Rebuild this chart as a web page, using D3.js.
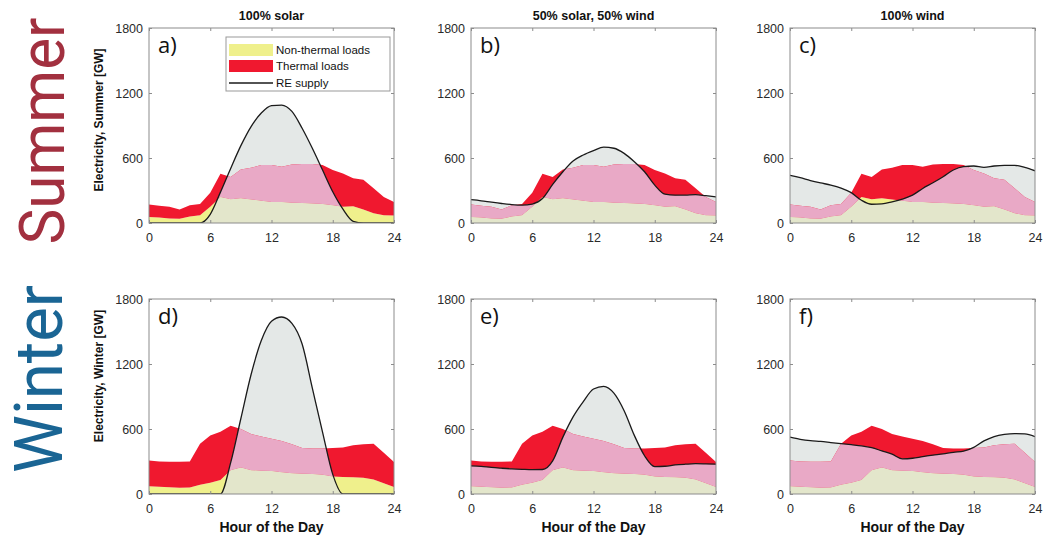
<!DOCTYPE html>
<html>
<head>
<meta charset="utf-8">
<script src="https://cdn.jsdelivr.net/npm/d3@7"></script>
<style>
  body { margin: 0; background: #fff; }
  svg { display: block; }
  text { font-family: 'Liberation Sans', Arial, sans-serif; }
</style>
</head>
<body>
<div id="chart"></div>
<script>
// hour of the day
const hours = [0, 1, 2, 3, 4, 5, 6, 7, 8, 9, 10, 11, 12, 13, 14, 15, 16, 17, 18, 19, 20, 21, 22, 23, 24]

// loads [GW], top of the non-thermal band and top of the total (non-thermal + thermal)
const summerNonThermal = [55, 50, 42, 40, 60, 72, 150, 240, 220, 228, 218, 205, 195, 195, 188, 185, 180, 175, 165, 150, 155, 125, 90, 72, 70]
const summerTotal = [170, 160, 150, 125, 165, 175, 280, 455, 425, 495, 510, 535, 535, 520, 540, 544, 544, 535, 490, 458, 412, 400, 320, 240, 195]
const winterNonThermal = [72, 66, 62, 58, 60, 85, 105, 130, 220, 245, 220, 215, 212, 200, 192, 188, 185, 178, 162, 156, 155, 150, 135, 100, 65]
const winterTotal = [310, 300, 298, 298, 300, 465, 540, 575, 630, 600, 555, 530, 510, 490, 460, 425, 420, 420, 425, 430, 450, 460, 465, 380, 295]

// RE supply [GW]
const reSolarSummer = [0, 0, 0, 0, 0, 0, 80, 285, 504, 714, 890, 1015, 1083, 1089, 1030, 875, 690, 489, 288, 127, 15, 0, 0, 0, 0]
const reMixSummer = [215, 205, 192, 180, 170, 165, 175, 226, 356, 473, 572, 628, 668, 700, 690, 643, 566, 473, 350, 266, 257, 258, 262, 252, 240]
const reWindSummer = [440, 418, 392, 370, 350, 322, 280, 210, 173, 176, 195, 220, 257, 319, 371, 427, 489, 520, 526, 513, 526, 532, 532, 513, 482]
const reSolarWinter = [0, 0, 0, 0, 0, 0, 0, 0, 290, 697, 1103, 1416, 1594, 1634, 1575, 1384, 978, 572, 181, 0, 0, 0, 0, 0, 0]
const reMixWinter = [260, 255, 245, 238, 232, 228, 225, 226, 306, 525, 712, 853, 969, 994, 931, 769, 541, 353, 253, 256, 268, 275, 280, 278, 275]
const reWindWinter = [525, 505, 492, 485, 475, 465, 455, 445, 428, 398, 368, 325, 330, 345, 358, 370, 385, 395, 430, 490, 530, 550, 558, 555, 530]

const xTicks = [0, 6, 12, 18, 24]
const yTicks = [0, 600, 1200, 1800]
const columnTitles = ['100% solar', '50% solar, 50% wind', '100% wind']
const panelLetters = ['a)', 'b)', 'c)', 'd)', 'e)', 'f)']
const seasons = ['Summer', 'Winter']
const legendLabels = ['Non-thermal loads', 'Thermal loads', 'RE supply']

const COLORS = {
  yellow: '#eff08c',
  red: '#f0182f',
  beige: '#e3e6cb',
  pink: '#e9a9c6',
  gray: '#e4e8e7',
  frame: '#8c8c8c',
  summer: '#a2303f',
  winter: '#1a6594'
}

const dimensions = {
  width: 1043,
  height: 537,
  plotW: 245,
  plotH: 195,
  cols: [149, 471, 790],
  rows: [28, 299]
}

const loads = [
  { nonThermal: summerNonThermal, total: summerTotal },
  { nonThermal: winterNonThermal, total: winterTotal }
]
const supplies = [
  [reSolarSummer, reMixSummer, reWindSummer],
  [reSolarWinter, reMixWinter, reWindWinter]
]

const svg = d3.select('#chart').append('svg')
  .attr('width', dimensions.width)
  .attr('height', dimensions.height)

const x = d3.scaleLinear().domain([0, 24]).range([0, dimensions.plotW])
const y = d3.scaleLinear().domain([0, 1800]).range([dimensions.plotH, 0])

const pts = (lo, hi) => hours.map((h, i) => ({ h, lo: lo ? lo[i] : 0, hi: hi[i] }))
const band = d3.area().x(d => x(d.h)).y0(d => y(d.lo)).y1(d => y(d.hi))
const smoothBand = d3.area().x(d => x(d.h)).y0(d => y(d.lo)).y1(d => y(d.hi)).curve(d3.curveMonotoneX)
const smoothLine = d3.line().x(d => x(d.h)).y(d => y(d.hi)).curve(d3.curveMonotoneX)

seasons.forEach((season, r) => {
  const load = loads[r]
  supplies[r].forEach((re, c) => {
    const idx = r * 3 + c
    const g = svg.append('g')
      .attr('transform', `translate(${dimensions.cols[c]}, ${dimensions.rows[r]})`)

    const defs = g.append('defs')
    defs.append('clipPath').attr('id', `plot${idx}`)
      .append('rect').attr('width', dimensions.plotW).attr('height', dimensions.plotH)
    defs.append('clipPath').attr('id', `re${idx}`)
      .append('path').attr('d', smoothBand(pts(null, re)))

    const body = g.append('g').attr('clip-path', `url(#plot${idx})`)
    body.append('path').attr('d', smoothBand(pts(null, re))).attr('fill', COLORS.gray)
    body.append('path').attr('d', band(pts(null, load.nonThermal))).attr('fill', COLORS.yellow)
    body.append('path').attr('d', band(pts(load.nonThermal, load.total))).attr('fill', COLORS.red)

    // loads covered by RE supply are drawn muted
    const covered = body.append('g').attr('clip-path', `url(#re${idx})`)
    covered.append('path').attr('d', band(pts(null, load.nonThermal))).attr('fill', COLORS.beige)
    covered.append('path').attr('d', band(pts(load.nonThermal, load.total))).attr('fill', COLORS.pink)

    body.append('path').attr('d', smoothLine(pts(null, re)))
      .attr('fill', 'none').attr('stroke', '#1a1a1a').attr('stroke-width', 1.3)

    // axes, MATLAB style: inner ticks on all four sides
    const styleAxis = sel => {
      sel.select('.domain').remove()
      sel.selectAll('line').attr('stroke', COLORS.frame)
      sel.selectAll('text').attr('fill', '#2a2a2a').style('font-size', '12.5px')
    }
    g.append('g').call(d3.axisLeft(y).tickValues(yTicks).tickFormat(d3.format('d')).tickSize(-3).tickPadding(6)).call(styleAxis)
    g.append('g').attr('transform', `translate(0, ${dimensions.plotH})`)
      .call(d3.axisBottom(x).tickValues(xTicks).tickFormat(d3.format('d')).tickSize(-3).tickPadding(10)).call(styleAxis)
    g.append('g').attr('transform', `translate(${dimensions.plotW}, 0)`)
      .call(d3.axisRight(y).tickValues(yTicks).tickSize(-3).tickFormat('')).call(styleAxis)
    g.append('g')
      .call(d3.axisTop(x).tickValues(xTicks).tickSize(-3).tickFormat('')).call(styleAxis)
    g.selectAll('.tick text').attr('font-family', null)

    g.append('rect')
      .attr('width', dimensions.plotW).attr('height', dimensions.plotH)
      .attr('fill', 'none').attr('stroke', COLORS.frame).attr('stroke-width', 1)

    g.append('text')
      .attr('x', 9).attr('y', 25)
      .style('font-family', "'Open Sans', sans-serif")
      .style('font-size', '22px')
      .attr('fill', '#111')
      .text(panelLetters[idx])

    if (r === 0) {
      g.append('text')
        .attr('x', dimensions.plotW / 2).attr('y', -8)
        .attr('text-anchor', 'middle')
        .style('font-size', '12.5px').style('font-weight', 'bold')
        .attr('fill', '#111')
        .text(columnTitles[c])
    } else {
      g.append('text')
        .attr('x', dimensions.plotW / 2).attr('y', 532 - dimensions.rows[1])
        .attr('text-anchor', 'middle')
        .style('font-size', '14px').style('font-weight', 'bold')
        .attr('fill', '#111')
        .text('Hour of the Day')
    }

    if (idx === 0) {
      const legend = g.append('g').attr('transform', 'translate(77, 9)')
      legend.append('rect')
        .attr('width', 164).attr('height', 54)
        .attr('fill', '#fff').attr('stroke', '#999')
      const rowsY = [13, 29, 46]
      legend.append('rect').attr('x', 3).attr('y', rowsY[0] - 6).attr('width', 44).attr('height', 12).attr('fill', COLORS.yellow)
      legend.append('rect').attr('x', 3).attr('y', rowsY[1] - 6).attr('width', 44).attr('height', 12).attr('fill', COLORS.red)
      legend.append('line').attr('x1', 3).attr('x2', 47).attr('y1', rowsY[2]).attr('y2', rowsY[2])
        .attr('stroke', '#1a1a1a').attr('stroke-width', 1.3)
      legend.selectAll('text.lbl')
        .data(legendLabels)
        .join('text')
        .attr('class', 'lbl')
        .attr('x', 50).attr('y', (d, i) => rowsY[i] + 4)
        .style('font-size', '11.5px')
        .attr('fill', '#111')
        .text(d => d)
    }
  })

  // row labels
  svg.append('text')
    .attr('transform', `translate(103, ${r === 0 ? 120 : 376}) rotate(-90)`)
    .attr('text-anchor', 'middle')
    .style('font-size', '12px').style('font-weight', 'bold')
    .attr('fill', '#111')
    .text(`Electricity, ${season} [GW]`)

  svg.append('text')
    .attr('transform', `translate(${r === 0 ? 64 : 62}, ${r === 0 ? 131 : 379}) rotate(-90)`)
    .attr('text-anchor', 'middle')
    .attr('textLength', r === 0 ? 227 : 188)
    .attr('lengthAdjust', 'spacingAndGlyphs')
    .style('font-family', 'Roboto, sans-serif')
    .style('font-size', r === 0 ? '63px' : '66px')
    .attr('fill', r === 0 ? COLORS.summer : COLORS.winter)
    .text(season)
})
</script>
</body>
</html>
